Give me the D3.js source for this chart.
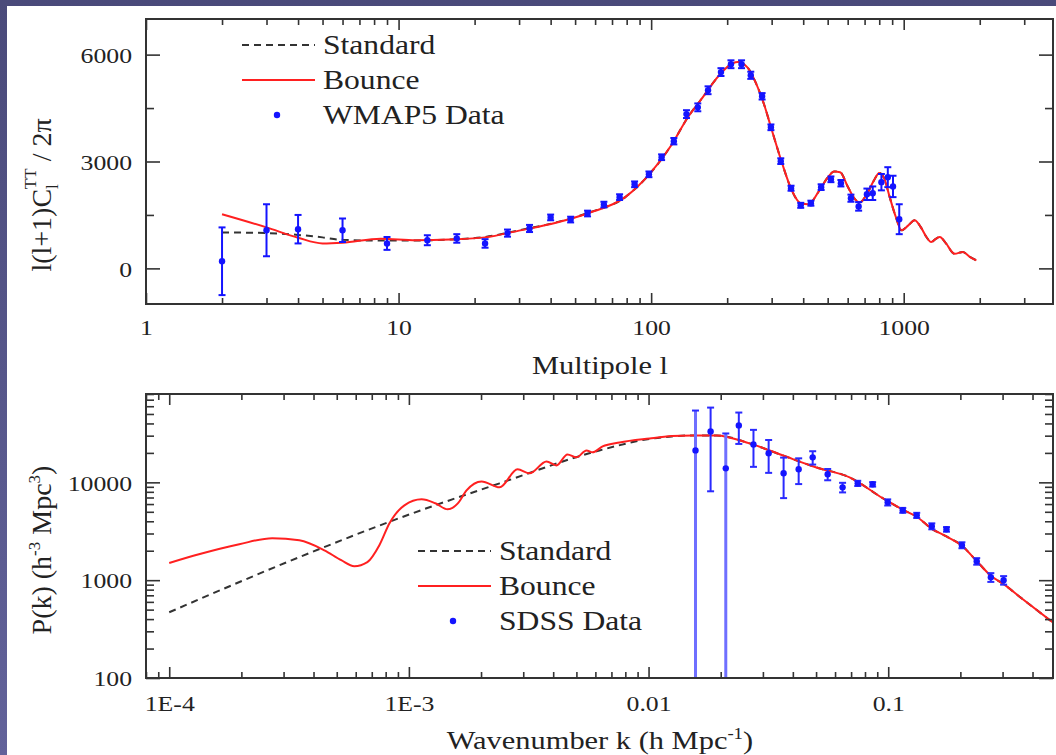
<!DOCTYPE html>
<html>
<head>
<meta charset="utf-8">
<script src="https://cdn.jsdelivr.net/npm/d3@7"></script>
<style>
  html, body { margin: 0; padding: 0; background: #fff; }
  svg { display: block; }
  text { font-family: "Liberation Serif", "Times New Roman", serif; fill: #222; }
</style>
</head>
<body>
<div id="chart"></div>
<script>
// ---- CMB TT spectrum (top panel) ----
const cmbBounceL = [2, 3, 4, 5, 6, 8.5, 11.7, 16, 22, 30, 42, 57, 79, 100, 120, 140, 160, 180, 200, 220, 240, 260, 280, 300, 330, 360, 390, 420, 460, 500, 530, 560, 600, 640, 670, 710, 760, 800, 840, 880, 930, 980, 1040, 1105, 1170, 1230, 1285, 1340, 1390, 1470, 1590, 1715, 1820, 1940];
const cmbBounceV = [1520, 1150, 860, 700, 720, 830, 790, 810, 870, 1060, 1280, 1560, 2000, 2700, 3450, 4250, 4800, 5300, 5650, 5790, 5650, 5200, 4600, 3900, 2950, 2200, 1830, 1800, 2150, 2550, 2720, 2700, 2300, 1950, 1850, 2050, 2450, 2680, 2500, 2000, 1450, 1070, 1200, 1350, 1150, 880, 740, 830, 880, 700, 410, 460, 330, 225];
const cmbStandardL = [2, 3, 4, 5, 6, 8.5, 11.7, 16, 22, 30, 42, 57, 79, 100, 120, 140, 160, 180, 200, 220, 240, 260, 280, 300, 330, 360, 390, 420, 460, 500, 530, 560, 600, 640, 670, 710, 760, 800, 840, 880, 930, 980, 1040, 1105, 1170, 1230, 1285, 1340, 1390, 1470, 1590, 1715, 1820, 1940];
const cmbStandardV = [1010, 990, 940, 870, 800, 780, 780, 810, 880, 1070, 1290, 1570, 2000, 2700, 3450, 4250, 4800, 5300, 5650, 5790, 5650, 5200, 4600, 3900, 2950, 2200, 1830, 1800, 2150, 2550, 2720, 2700, 2300, 1950, 1850, 2050, 2450, 2680, 2500, 2000, 1450, 1070, 1200, 1350, 1150, 880, 740, 830, 880, 700, 410, 460, 330, 225];
const wmapL   = [2, 3, 4, 6, 9, 13, 17, 22, 27, 33, 40, 48, 56, 65, 75, 86, 98, 110, 123, 138, 153, 168, 189, 207, 228, 248, 275, 298, 326, 358, 391, 429, 471, 515, 564, 618, 663, 715, 754, 816, 865, 907, 960];
const wmapV   = [200, 1070, 1100, 1070, 700, 790, 840, 700, 990, 1120, 1430, 1370, 1540, 1790, 2000, 2360, 2640, 3120, 3570, 4330, 4520, 5000, 5510, 5730, 5730, 5420, 4830, 3960, 3010, 2250, 1770, 1830, 2280, 2500, 2390, 1970, 1740, 2080, 2110, 2420, 2560, 2300, 1380];
const wmapErr = [950, 730, 400, 330, 180, 140, 120, 120, 100, 100, 80, 80, 80, 80, 80, 80, 80, 80, 90, 110, 110, 110, 110, 110, 110, 100, 90, 80, 80, 70, 70, 70, 80, 80, 90, 100, 120, 160, 190, 230, 280, 300, 420];

const topXTicksMajor = [1, 10, 100, 1000];
const topXTickLabels = ['1', '10', '100', '1000'];
const topYTicks = [0, 1500, 3000, 4500, 6000];
const topYTicksMajor = [0, 3000, 6000];
const topYTickLabels = ['0', '3000', '6000'];

// ---- matter power spectrum (bottom panel) ----
const pkBounceK = [1e-4, 1.33e-4, 1.96e-4, 2.69e-4, 3.49e-4, 4.44e-4, 5.22e-4, 5.92e-4, 6.71e-4, 7.53e-4, 8.3e-4, 9.58e-4, 1.13e-3, 1.29e-3, 1.45e-3, 1.6e-3, 1.74e-3, 2.01e-3, 2.39e-3, 2.84e-3, 3.19e-3, 3.75e-3, 4.13e-3, 4.59e-3, 5.0e-3, 5.51e-3, 5.84e-3, 6.43e-3, 7.57e-3, 0.0101, 0.0125, 0.0153, 0.0192, 0.0264, 0.0362, 0.0502, 0.069, 0.0948, 0.115, 0.1315, 0.152, 0.175, 0.203, 0.234, 0.268, 0.303, 0.35, 0.49];
const pkBounceP = [1500, 1840, 2330, 2690, 2560, 2020, 1600, 1390, 1530, 2280, 3820, 5820, 6710, 6110, 5300, 6100, 8290, 10230, 8890, 13580, 12360, 16380, 14900, 19300, 18000, 21200, 20250, 23300, 25600, 28100, 29700, 30200, 30200, 25000, 18900, 14200, 11250, 6900, 5250, 4450, 3350, 2800, 2250, 1570, 1110, 910, 690, 364];
const pkStandardK = [1e-4, 3.49e-4, 9.1e-4, 2.39e-3, 6.24e-3, 0.0101, 0.0125, 0.0153, 0.0192, 0.0264, 0.0362, 0.0502, 0.069, 0.0948, 0.115, 0.1315, 0.152, 0.175, 0.203, 0.234, 0.268, 0.303, 0.35, 0.49];
const pkStandardP = [470, 1720, 4300, 9770, 21200, 27800, 29500, 30200, 30200, 25000, 18900, 14200, 11250, 6900, 5250, 4450, 3350, 2800, 2250, 1570, 1110, 910, 690, 364];
const sdssK   = [0.0157, 0.01815, 0.021, 0.0238, 0.0274, 0.0317, 0.0366, 0.0423, 0.0484, 0.0559, 0.0645, 0.0746, 0.0861, 0.0995, 0.115, 0.1315, 0.152, 0.175, 0.203, 0.234, 0.268, 0.303];
const sdssP   = [21200, 33100, 13900, 38200, 24400, 19800, 12400, 13600, 18000, 12100, 8890, 9770, 9550, 6250, 5180, 4600, 3560, 3310, 2280, 1560, 1070, 1000];
const sdssErr = [33000, 25000, 17700, 13500, 10000, 7300, 5500, 4000, 2800, 1600, 1000, 600, 500, 450, 300, 280, 250, 180, 160, 120, 110, 100];

const botXTicksMajor = [1e-4, 1e-3, 0.01, 0.1];
const botXTickLabels = ['1E-4', '1E-3', '0.01', '0.1'];
const botYTicksMajor = [100, 1000, 10000];
const botYTickLabels = ['100', '1000', '10000'];

const W = 1056, H = 755;
const STRETCH = 1.17;
const BLUE = '#1414ff', RED = '#ff2020', DASH = '#333';

const svg = d3.select('#chart').append('svg').attr('width', W).attr('height', H);

// slide background strips
const grad = svg.append('defs').append('linearGradient').attr('id', 'bg').attr('x1', 0).attr('y1', 0).attr('x2', 0).attr('y2', 1);
grad.append('stop').attr('offset', '0%').attr('stop-color', '#4a4a7a');
grad.append('stop').attr('offset', '100%').attr('stop-color', '#62629a');
svg.append('rect').attr('width', W).attr('height', H).attr('fill', 'url(#bg)');
svg.append('rect').attr('x', 7).attr('y', 6).attr('width', W - 7).attr('height', H - 6).attr('fill', '#fff');

function stretch() {
  const w = this.getComputedTextLength();
  if (w > 0) d3.select(this).attr('textLength', w * STRETCH).attr('lengthAdjust', 'spacingAndGlyphs');
}

const near = (list, v) => list.findIndex(m => Math.abs(v - m) <= Math.abs(m) * 1e-6 + 1e-9);

function drawFrame(g, x, y, o) {
  const [xl, xr] = x.range();
  const [yb, yt] = y.range();
  const xLen = d => near(o.xMajor, d) >= 0 ? 11 : 6;
  const yLen = d => near(o.yMajor, d) >= 0 ? 14 : 8;
  const xFmt = d => { const i = near(o.xMajor, d); return i < 0 ? '' : o.xLabels[i]; };
  const yFmt = d => { const i = near(o.yMajor, d); return i < 0 ? '' : o.yLabels[i]; };

  const gb = g.append('g').attr('transform', `translate(0,${yb})`)
    .call(d3.axisBottom(x).tickValues(o.xTicks).tickSizeOuter(0).tickFormat(xFmt));
  gb.selectAll('.tick line').attr('y2', d => -xLen(d));
  gb.selectAll('.tick text').attr('y', o.xLabelOffset).attr('dy', '0.35em');

  const gt = g.append('g').attr('transform', `translate(0,${yt})`)
    .call(d3.axisTop(x).tickValues(o.xTicks).tickSizeOuter(0).tickFormat(''));
  gt.selectAll('.tick line').attr('y2', d => xLen(d));

  const gl = g.append('g').attr('transform', `translate(${xl},0)`)
    .call(d3.axisLeft(y).tickValues(o.yTicks).tickSizeOuter(0).tickFormat(yFmt));
  gl.selectAll('.tick line').attr('x2', d => yLen(d));
  gl.selectAll('.tick text').attr('x', -14).attr('dy', '0.35em');

  const gr = g.append('g').attr('transform', `translate(${xr},0)`)
    .call(d3.axisRight(y).tickValues(o.yTicks).tickSizeOuter(0).tickFormat(''));
  gr.selectAll('.tick line').attr('x2', d => -yLen(d));

  [gb, gt, gl, gr].forEach(a => {
    a.select('.domain').remove();
    a.selectAll('.tick line').attr('stroke', '#333').attr('stroke-width', 1.6);
    a.selectAll('.tick text')
      .style('font-family', '"Liberation Serif", serif')
      .style('font-size', '22px')
      .attr('fill', '#222')
      .each(stretch);
  });

  g.append('rect')
    .attr('x', xl).attr('y', yt).attr('width', xr - xl).attr('height', yb - yt)
    .attr('fill', 'none').attr('stroke', '#333').attr('stroke-width', 2);
}

function clip(id, x, y) {
  const [xl, xr] = x.range();
  const [yb, yt] = y.range();
  svg.select('defs').append('clipPath').attr('id', id)
    .append('rect').attr('x', xl).attr('y', yt).attr('width', xr - xl).attr('height', yb - yt);
  return `url(#${id})`;
}

function legend(g, x0, y0, gap, labels) {
  g.append('line').attr('x1', x0).attr('x2', x0 + 73).attr('y1', y0).attr('y2', y0)
    .attr('stroke', DASH).attr('stroke-width', 2).attr('stroke-dasharray', '7,5');
  g.append('line').attr('x1', x0).attr('x2', x0 + 73).attr('y1', y0 + gap).attr('y2', y0 + gap)
    .attr('stroke', RED).attr('stroke-width', 2);
  g.append('circle').attr('cx', x0 + 35).attr('cy', y0 + 2 * gap).attr('r', 3.2).attr('fill', BLUE);
  g.selectAll('text.leg').data(labels).join('text')
    .attr('class', 'leg')
    .attr('x', x0 + 81).attr('y', (d, i) => y0 + i * gap).attr('dy', '0.35em')
    .style('font-size', '27px')
    .text(d => d)
    .each(stretch);
}

// ===== top panel =====
const xTop = d3.scaleLog().domain([1, 3900]).range([146, 1053]);
const yTop = d3.scaleLinear().domain([-1000, 7000]).range([304, 19]);
const gTop = svg.append('g');

const topLine = d3.line().x(d => xTop(d[0])).y(d => yTop(d[1])).curve(d3.curveMonotoneX);
const cTop = clip('clipTop', xTop, yTop);

gTop.append('path').datum(d3.zip(cmbStandardL, cmbStandardV)).attr('d', topLine)
  .attr('fill', 'none').attr('stroke', DASH).attr('stroke-width', 2).attr('stroke-dasharray', '7,5').attr('clip-path', cTop);
gTop.append('path').datum(d3.zip(cmbBounceL, cmbBounceV)).attr('d', topLine)
  .attr('fill', 'none').attr('stroke', RED).attr('stroke-width', 2).attr('clip-path', cTop);

const wmap = d3.zip(wmapL, wmapV, wmapErr);
const eb = gTop.append('g').attr('stroke', BLUE).attr('stroke-width', 2);
eb.selectAll('line.v').data(wmap).join('line').attr('class', 'v')
  .attr('x1', d => xTop(d[0])).attr('x2', d => xTop(d[0]))
  .attr('y1', d => yTop(d[1] - d[2])).attr('y2', d => yTop(d[1] + d[2]));
eb.selectAll('line.t').data(wmap).join('line').attr('class', 't')
  .attr('x1', d => xTop(d[0]) - 3.5).attr('x2', d => xTop(d[0]) + 3.5)
  .attr('y1', d => yTop(d[1] + d[2])).attr('y2', d => yTop(d[1] + d[2]));
eb.selectAll('line.b').data(wmap).join('line').attr('class', 'b')
  .attr('x1', d => xTop(d[0]) - 3.5).attr('x2', d => xTop(d[0]) + 3.5)
  .attr('y1', d => yTop(d[1] - d[2])).attr('y2', d => yTop(d[1] - d[2]));
gTop.append('g').selectAll('circle').data(wmap).join('circle')
  .attr('cx', d => xTop(d[0])).attr('cy', d => yTop(d[1])).attr('r', 3.2).attr('fill', BLUE);

drawFrame(gTop, xTop, yTop, {
  xTicks: xTop.ticks(), xMajor: topXTicksMajor, xLabels: topXTickLabels, xLabelOffset: 23,
  yTicks: topYTicks, yMajor: topYTicksMajor, yLabels: topYTickLabels
});
legend(gTop, 242, 45, 35, ['Standard', 'Bounce', 'WMAP5 Data']);

gTop.append('text').attr('x', 600).attr('y', 365).attr('dy', '0.35em').attr('text-anchor', 'middle')
  .style('font-size', '26px').text('Multipole l').each(stretch);

const yt1 = gTop.append('text').attr('transform', 'translate(51,195) rotate(-90)')
  .attr('text-anchor', 'middle').style('font-size', '28px');
yt1.append('tspan').text('l(l+1)C');
yt1.append('tspan').attr('dy', 7).style('font-size', '17px').text('l');
yt1.append('tspan').attr('dx', -5).attr('dy', -22).style('font-size', '17px').text('TT');
yt1.append('tspan').attr('dy', 15).text(' / 2π');

// ===== bottom panel =====
const xBot = d3.scaleLog().domain([8e-5, 0.487]).range([146, 1053]);
const yBot = d3.scaleLog().domain([100, 80000]).range([678, 394]).clamp(true);
const gBot = svg.append('g');

const botLine = d3.line().x(d => xBot(d[0])).y(d => yBot(d[1])).curve(d3.curveMonotoneX);
const cBot = clip('clipBot', xBot, yBot);

gBot.append('path').datum(d3.zip(pkStandardK, pkStandardP)).attr('d', botLine)
  .attr('fill', 'none').attr('stroke', DASH).attr('stroke-width', 2).attr('stroke-dasharray', '7,5').attr('clip-path', cBot);
gBot.append('path').datum(d3.zip(pkBounceK, pkBounceP)).attr('d', botLine)
  .attr('fill', 'none').attr('stroke', RED).attr('stroke-width', 2).attr('clip-path', cBot);

const sdss = d3.zip(sdssK, sdssP, sdssErr);
const lowOf = d => d[1] - d[2] > 0 ? yBot(d[1] - d[2]) : yBot.range()[0];
const longBar = d => d[1] - d[2] <= 0;
const eb2 = gBot.append('g').attr('clip-path', cBot);
eb2.selectAll('line.v').data(sdss).join('line').attr('class', 'v')
  .attr('x1', d => xBot(d[0])).attr('x2', d => xBot(d[0]))
  .attr('y1', lowOf).attr('y2', d => yBot(d[1] + d[2]))
  .attr('stroke', d => longBar(d) ? '#6f6fff' : '#2a2aff')
  .attr('stroke-width', d => longBar(d) ? 3 : 2);
eb2.selectAll('line.t').data(sdss).join('line').attr('class', 't')
  .attr('x1', d => xBot(d[0]) - 3.5).attr('x2', d => xBot(d[0]) + 3.5)
  .attr('y1', d => yBot(d[1] + d[2])).attr('y2', d => yBot(d[1] + d[2]))
  .attr('stroke', '#2a2aff').attr('stroke-width', 2);
eb2.selectAll('line.b').data(sdss.filter(d => !longBar(d))).join('line').attr('class', 'b')
  .attr('x1', d => xBot(d[0]) - 3.5).attr('x2', d => xBot(d[0]) + 3.5)
  .attr('y1', lowOf).attr('y2', lowOf)
  .attr('stroke', '#2a2aff').attr('stroke-width', 2);
gBot.append('g').selectAll('circle').data(sdss).join('circle')
  .attr('cx', d => xBot(d[0])).attr('cy', d => yBot(d[1])).attr('r', 3.2).attr('fill', BLUE);

drawFrame(gBot, xBot, yBot, {
  xTicks: xBot.ticks(), xMajor: botXTicksMajor, xLabels: botXTickLabels, xLabelOffset: 25,
  yTicks: yBot.ticks(), yMajor: botYTicksMajor, yLabels: botYTickLabels
});
legend(gBot, 418, 551, 35, ['Standard', 'Bounce', 'SDSS Data']);

const xt2 = gBot.append('text').attr('x', 600).attr('y', 740).attr('dy', '0.35em').attr('text-anchor', 'middle')
  .style('font-size', '26px');
xt2.append('tspan').text('Wavenumber k (h Mpc');
xt2.append('tspan').attr('dy', -10).style('font-size', '16px').text('-1');
xt2.append('tspan').attr('dy', 10).text(')');
xt2.each(stretch);

const yt2 = gBot.append('text').attr('transform', 'translate(51,550) rotate(-90)')
  .attr('text-anchor', 'middle').style('font-size', '28px');
yt2.append('tspan').text('P(k) (h');
yt2.append('tspan').attr('dy', -11).style('font-size', '17px').text('-3');
yt2.append('tspan').attr('dy', 11).text(' Mpc');
yt2.append('tspan').attr('dy', -11).style('font-size', '17px').text('3');
yt2.append('tspan').attr('dy', 11).text(')');
</script>
</body>
</html>
